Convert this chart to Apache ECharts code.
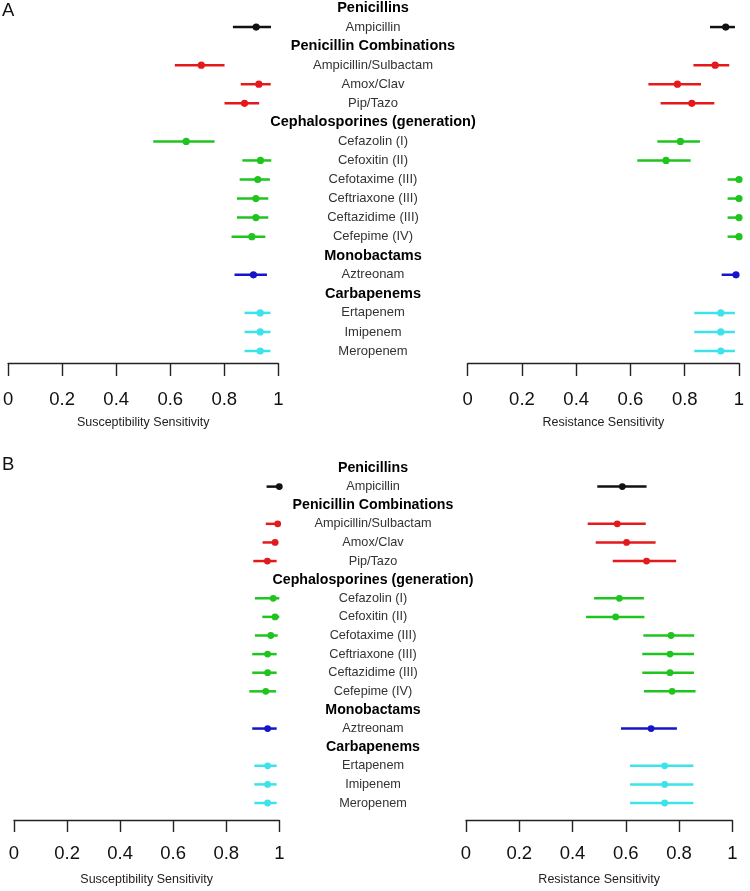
<!DOCTYPE html>
<html>
<head>
<meta charset="utf-8">
<script src="https://cdn.jsdelivr.net/npm/echarts@6/dist/echarts.min.js"></script>
<style>
  html, body { margin: 0; padding: 0; background: #fff; }
  #chart { width: 750px; height: 891px; }
</style>
</head>
<body>
<div id="chart"></div>
<script>
// drug classes and drugs, in display order
const classNames = ['Penicillins', 'Penicillin Combinations', 'Cephalosporines (generation)', 'Monobactams', 'Carbapenems'];
const classColors = ['#111111', '#e3191c', '#1fc41f', '#1414c8', '#3de3ea'];
const drugs = ['Ampicillin', 'Ampicillin/Sulbactam', 'Amox/Clav', 'Pip/Tazo', 'Cefazolin (I)', 'Cefoxitin (II)',
  'Cefotaxime (III)', 'Ceftriaxone (III)', 'Ceftazidime (III)', 'Cefepime (IV)', 'Aztreonam',
  'Ertapenem', 'Imipenem', 'Meropenem'];
const drugClass = [0, 1, 1, 1, 2, 2, 2, 2, 2, 2, 3, 4, 4, 4];
const ticks = [0, 0.2, 0.4, 0.6, 0.8, 1];

// panel A
const aSusEst = [0.918, 0.715, 0.928, 0.875, 0.659, 0.934, 0.924, 0.917, 0.917, 0.902, 0.908, 0.933, 0.933, 0.933];
const aSusLo  = [0.832, 0.617, 0.861, 0.801, 0.537, 0.867, 0.857, 0.847, 0.847, 0.827, 0.838, 0.875, 0.875, 0.875];
const aSusHi  = [0.973, 0.801, 0.972, 0.929, 0.764, 0.974, 0.969, 0.963, 0.963, 0.952, 0.958, 0.971, 0.971, 0.971];
const aResEst = [0.951, 0.912, 0.773, 0.826, 0.784, 0.731, 1.0, 1.0, 1.0, 1.0, 0.989, 0.933, 0.933, 0.933];
const aResLo  = [0.893, 0.832, 0.666, 0.711, 0.699, 0.625, 0.958, 0.958, 0.958, 0.958, 0.936, 0.835, 0.835, 0.835];
const aResHi  = [0.985, 0.964, 0.860, 0.909, 0.856, 0.822, 1.0, 1.0, 1.0, 1.0, 0.997, 0.985, 0.985, 0.985];

// panel B
const bSusEst = [1.0, 0.994, 0.984, 0.955, 0.977, 0.984, 0.968, 0.956, 0.956, 0.949, 0.956, 0.956, 0.956, 0.956];
const bSusLo  = [0.952, 0.949, 0.937, 0.902, 0.908, 0.936, 0.908, 0.898, 0.898, 0.887, 0.898, 0.906, 0.906, 0.906];
const bSusHi  = [1.0, 1.0, 0.996, 0.990, 1.0, 1.0, 0.994, 0.990, 0.990, 0.988, 0.990, 0.990, 0.990, 0.990];
const bResEst = [0.587, 0.568, 0.603, 0.678, 0.576, 0.562, 0.770, 0.766, 0.766, 0.774, 0.695, 0.746, 0.746, 0.746];
const bResLo  = [0.493, 0.457, 0.487, 0.551, 0.481, 0.451, 0.666, 0.662, 0.662, 0.668, 0.582, 0.616, 0.616, 0.616];
const bResHi  = [0.678, 0.675, 0.712, 0.789, 0.668, 0.670, 0.857, 0.856, 0.856, 0.862, 0.792, 0.854, 0.854, 0.854];

const FONT = 'Liberation Sans, Arial, Helvetica, sans-serif';

// rows: a header row before each new class
const rows = [];
const drugRow = [];
let lastClass = -1;
drugs.forEach(function (d, i) {
  if (drugClass[i] !== lastClass) {
    rows.push({ text: classNames[drugClass[i]], header: true });
    lastClass = drugClass[i];
  }
  drugRow[i] = rows.length;
  rows.push({ text: d, header: false });
});
const nRows = rows.length - 1;

const chart = echarts.init(document.getElementById('chart'));

// panel geometry
const panels = [
  { top: 8, height: 343, left: [6.7, 271.6], right: [467.7, 271.3], offset: 12, tickLen: 13, margin: 27, dot: 3.6, lab: 13, head: 14.5,
    sus: [aSusLo, aSusHi, aSusEst], res: [aResLo, aResHi, aResEst] },
  { top: 468, height: 335, left: [14, 265.3], right: [466, 266.3], offset: 17, tickLen: 12, margin: 24, dot: 3.4, lab: 12.7, head: 14.2,
    sus: [bSusLo, bSusHi, bSusEst], res: [bResLo, bResHi, bResEst] }
];

const grid = [], xAxis = [], yAxis = [], series = [];

function valueAxis(idx, name, p) {
  return {
    gridIndex: idx, type: 'value', min: 0, max: 1, interval: 0.2, position: 'bottom', offset: p.offset,
    axisLine: { show: true, onZero: false, lineStyle: { color: '#222', width: 1.4 } },
    axisTick: { show: true, length: p.tickLen, lineStyle: { color: '#222', width: 1.4 } },
    axisLabel: { fontSize: 18.5, fontFamily: FONT, color: '#111', margin: p.margin,
      formatter: function (v) { return String(+v.toFixed(1)); } },
    splitLine: { show: false },
    name: name, nameLocation: 'middle', nameGap: 53,
    nameTextStyle: { fontSize: 12.5, fontFamily: FONT, color: '#222' }
  };
}

function errorSeries(idx, arr) {
  const data = drugs.map(function (d, i) {
    return [arr[0][i], arr[1][i], arr[2][i], drugRow[i], drugClass[i]];
  });
  return {
    type: 'custom', xAxisIndex: idx, yAxisIndex: idx, clip: false,
    encode: { x: [0, 1, 2], y: 3 },
    data: data,
    renderItem: function (params, api) {
      const r = api.value(3);
      const lo = api.coord([api.value(0), r]);
      const hi = api.coord([api.value(1), r]);
      const est = api.coord([api.value(2), r]);
      const color = classColors[api.value(4)];
      const p = panels[Math.floor(idx / 3)];
      return {
        type: 'group',
        children: [
          { type: 'line', shape: { x1: lo[0], y1: lo[1], x2: hi[0], y2: hi[1] },
            style: { stroke: color, lineWidth: 2.5 } },
          { type: 'circle', shape: { cx: est[0], cy: est[1], r: p.dot }, style: { fill: color } }
        ]
      };
    }
  };
}

panels.forEach(function (p, k) {
  const base = k * 3;
  // left, middle (labels), right
  grid.push({ left: p.left[0], width: p.left[1], top: p.top, height: p.height });
  grid.push({ left: 290, width: 166, top: p.top, height: p.height });
  grid.push({ left: p.right[0], width: p.right[1], top: p.top, height: p.height });

  xAxis.push(valueAxis(base, 'Susceptibility Sensitivity', p));
  xAxis.push({ gridIndex: base + 1, type: 'value', min: 0, max: 1, show: false });
  xAxis.push(valueAxis(base + 2, 'Resistance Sensitivity', p));

  for (let j = 0; j < 3; j++) {
    yAxis.push({ gridIndex: base + j, type: 'value', min: 0, max: nRows, inverse: true, show: false });
  }

  series.push(errorSeries(base, p.sus));
  series.push({
    type: 'custom', xAxisIndex: base + 1, yAxisIndex: base + 1, clip: false,
    encode: { x: 0, y: 1 },
    data: rows.map(function (r, i) { return [0.5, i]; }),
    renderItem: function (params, api) {
      const pt = api.coord([api.value(0), api.value(1)]);
      const row = rows[params.dataIndex];
      return {
        type: 'text', x: pt[0], y: pt[1],
        style: {
          text: row.text, fontFamily: FONT,
          fontSize: row.header ? p.head : p.lab,
          fontWeight: row.header ? 'bold' : 'normal',
          fill: row.header ? '#000' : '#333',
          align: 'center', verticalAlign: 'middle'
        }
      };
    }
  });
  series.push(errorSeries(base + 2, p.res));
});

chart.setOption({
  animation: false,
  backgroundColor: '#ffffff',
  title: [
    { text: 'A', left: 2, top: 1, padding: 0, textStyle: { fontSize: 18.5, fontWeight: 'normal', fontFamily: FONT, color: '#111' } },
    { text: 'B', left: 2, top: 455, padding: 0, textStyle: { fontSize: 18.5, fontWeight: 'normal', fontFamily: FONT, color: '#111' } }
  ],
  grid: grid,
  xAxis: xAxis,
  yAxis: yAxis,
  series: series
});
</script>
</body>
</html>
